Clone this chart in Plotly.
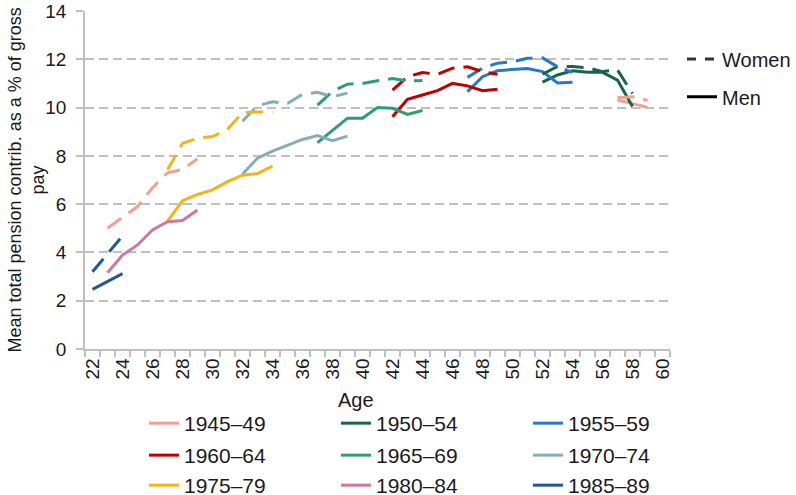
import plotly.graph_objects as go

# birth cohorts, colours and first age observed
cohorts = ["1945–49", "1950–54", "1955–59", "1960–64", "1965–69",
           "1970–74", "1975–79", "1980–84", "1985–89"]
colours = ["#F2A08F", "#19644A", "#2878C8", "#C00000", "#2E9E72",
           "#86ADB7", "#F2B418", "#CC79A0", "#1F5A96"]
start_age = [57, 52, 47, 42, 37, 32, 27, 23, 22]

# mean total pension contribution (% of gross pay), men
men_1945_49 = [10.31, 10.15, 10.02]
men_1950_54 = [11.05, 11.35, 11.52, 11.46, 11.46, 11.14, 10.04]
men_1955_59 = [10.66, 11.28, 11.53, 11.57, 11.62, 11.49, 11.02, 11.05]
men_1960_64 = [9.62, 10.34, 10.52, 10.70, 11.00, 10.90, 10.70, 10.76]
men_1965_69 = [8.55, 9.07, 9.56, 9.56, 10.00, 9.97, 9.72, 9.88]
men_1970_74 = [7.25, 7.90, 8.20, 8.45, 8.68, 8.84, 8.63, 8.82]
men_1975_79 = [5.30, 6.14, 6.40, 6.59, 6.93, 7.20, 7.27, 7.58]
men_1980_84 = [3.16, 3.89, 4.31, 4.93, 5.27, 5.32, 5.76]
men_1985_89 = [2.47, 2.78, 3.12]

# women
women_1945_49 = [10.41, 10.45, 10.30]
women_1950_54 = [11.38, 11.70, 11.70, 11.65, 11.49, 11.56, 10.58]
women_1955_59 = [11.25, 11.63, 11.84, 11.90, 12.04, 12.06, 11.69, 11.46]
women_1960_64 = [10.72, 11.28, 11.45, 11.38, 11.63, 11.69, 11.49, 11.38]
women_1965_69 = [10.10, 10.67, 10.97, 11.00, 11.11, 11.20, 11.10, 11.12]
women_1970_74 = [9.44, 10.07, 10.24, 10.17, 10.55, 10.63, 10.45, 10.60]
women_1975_79 = [7.42, 8.52, 8.73, 8.80, 9.10, 9.79, 9.82, 9.80]
women_1980_84 = [5.00, 5.45, 5.90, 6.68, 7.30, 7.44, 7.87]
women_1985_89 = [3.20, 3.95, 4.68]

men = [men_1945_49, men_1950_54, men_1955_59, men_1960_64, men_1965_69,
       men_1970_74, men_1975_79, men_1980_84, men_1985_89]
women = [women_1945_49, women_1950_54, women_1955_59, women_1960_64, women_1965_69,
         women_1970_74, women_1975_79, women_1980_84, women_1985_89]
# in the original the 1980-84 women line is drawn in the salmon colour
women_colours = list(colours)
women_colours[7] = "#F2A08F"

grey = "#BFBFBF"
font = "Liberation Sans, Arial, sans-serif"
row_legends = ["legend", "legend4", "legend5"]  # one legend per row of three

fig = go.Figure()
for i, name in enumerate(cohorts):
    ages = list(range(start_age[i], start_age[i] + len(men[i])))
    fig.add_trace(go.Scatter(name=name, x=ages, y=men[i], mode="lines",
                             line=dict(color=colours[i], width=3),
                             legend=row_legends[i // 3]))
for i, name in enumerate(cohorts):
    ages = list(range(start_age[i], start_age[i] + len(women[i])))
    fig.add_trace(go.Scatter(name=name + " women", x=ages, y=women[i], mode="lines",
                             line=dict(color=women_colours[i], width=3, dash="17px,9px"),
                             showlegend=False))

# key for line styles
fig.add_trace(go.Scatter(name="Women", x=[None], y=[None], mode="lines",
                         line=dict(color="#333333", width=3, dash="dash"), legend="legend2"))
fig.add_trace(go.Scatter(name="Men", x=[None], y=[None], mode="lines",
                         line=dict(color="black", width=3), legend="legend3"))

row_legend = dict(orientation="h", x=0.1008, xanchor="left", yanchor="top",
                  entrywidth=147, entrywidthmode="pixels", font=dict(size=21),
                  bgcolor="rgba(0,0,0,0)")
fig.update_layout(
    width=796, height=495,
    margin=dict(l=85, r=126, t=11, b=146, autoexpand=False),
    plot_bgcolor="white", paper_bgcolor="white",
    font=dict(family=font, size=19, color="#1a1a1a"),
    showlegend=True,
    legend=dict(row_legend, y=-0.1598),
    legend4=dict(row_legend, y=-0.2544),
    legend5=dict(row_legend, y=-0.3432),
    legend2=dict(x=1.0205, xanchor="left", y=0.858, yanchor="middle",
                 font=dict(size=20), bgcolor="rgba(0,0,0,0)"),
    legend3=dict(x=1.0205, xanchor="left", y=0.746, yanchor="middle",
                 font=dict(size=20), bgcolor="rgba(0,0,0,0)"),
    annotations=[
        dict(text="Mean total pension contrib. as a % of gross<br>pay", textangle=-90,
             xref="paper", yref="paper", x=-0.1017, y=0.5, xanchor="center", yanchor="middle",
             showarrow=False, font=dict(size=18)),
        dict(text="Age", xref="paper", yref="paper", x=0.463, y=-0.151,
             xanchor="center", yanchor="middle", showarrow=False, font=dict(size=20)),
    ],
)
fig.update_xaxes(range=[21.5, 60.5], tickmode="linear", tick0=22, dtick=2, tickangle=-90,
                 ticks="", showgrid=False, zeroline=False, ticklabeloverflow="allow",
                 showline=True, linecolor=grey, linewidth=1.5,
                 minor=dict(tickmode="linear", tick0=21.5, dtick=1, ticks="outside",
                            ticklen=6, tickcolor=grey, tickwidth=1.5, showgrid=False))
fig.update_yaxes(range=[0, 14], tickmode="linear", tick0=0, dtick=2,
                 ticks="outside", ticklen=7, tickcolor=grey, tickwidth=1.5,
                 showline=True, linecolor=grey, linewidth=1.5, zeroline=False,
                 showgrid=True, gridcolor=grey, gridwidth=2, griddash="9px,5px",
                 ticklabelstandoff=6, ticklabeloverflow="allow")

# drop the page's default body margin so the figure fills the window
fig.write_html("out.html", config={"displayModeBar": False},
               post_script="document.body.style.margin = '0px';")
